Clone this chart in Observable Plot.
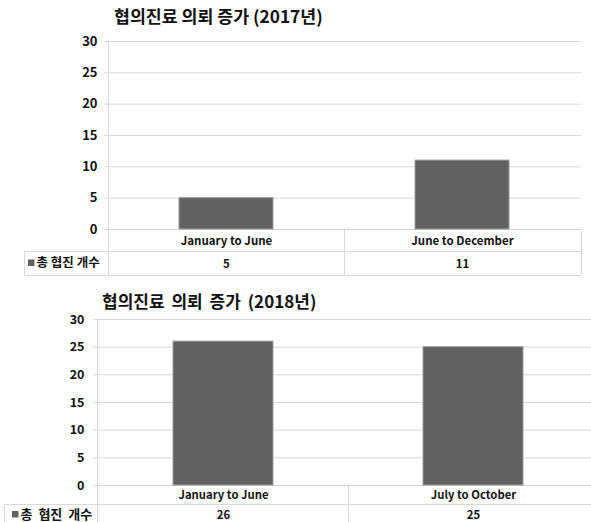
<!DOCTYPE html>
<html>
<head>
<meta charset="utf-8">
<script src="https://cdn.jsdelivr.net/npm/d3@7"></script>
<script src="https://cdn.jsdelivr.net/npm/@observablehq/plot@0.6"></script>
<style>
  body { margin: 0; background: #fff; overflow: hidden; }
  #wrap { position: relative; width: 591px; height: 522px; overflow: hidden;
          font-family: "Noto Sans CJK KR", "Noto Sans", sans-serif; }
  .panel { position: absolute; left: 0; }
  .title { position: absolute; font-weight: bold; white-space: nowrap; color: #111; line-height: 20px; }
  /* light grey tick stubs on the value axis */
  svg g[aria-label="y-axis tick"] { stroke: #d9d9d9; }
  svg g[aria-label="y-axis"] line { stroke: #d9d9d9; }
</style>
</head>
<body>
<div id="wrap"></div>
<script>
// Series and categories for the two yearly panels
const seriesName = "총 협진 개수";
const title2017 = "협의진료 의뢰 증가 (2017년)";
const periods2017 = ["January to June", "June to December"];
const counts2017 = [5, 11];
const title2018 = "협의진료 의뢰 증가 (2018년)";
const periods2018 = ["January to June", "July to October"];
const counts2018 = [26, 25];
const yTicks = [0, 5, 10, 15, 20, 25, 30];

const FONT = '"Noto Sans CJK KR", "Noto Sans", sans-serif';
const BAR = "#616161";
const LINE = "#d9d9d9";

function panel(cfg) {
  const wrap = document.getElementById("wrap");
  const box = document.createElement("div");
  box.className = "panel";
  box.style.top = cfg.top + "px";
  wrap.appendChild(box);

  const data = cfg.periods.map((p, i) => ({period: p, count: cfg.counts[i]}));
  const tableH = cfg.catRow + cfg.valRow;

  const plot = Plot.plot({
    width: cfg.width,
    height: cfg.height,
    marginLeft: cfg.marginLeft,
    marginRight: cfg.marginRight,
    marginTop: cfg.marginTop,
    marginBottom: cfg.marginBottom,
    style: {fontFamily: FONT, fontSize: cfg.tickFont + "px", fontWeight: "bold", color: "#111",
            background: "none", overflow: "visible", maxWidth: "none"},
    x: {domain: cfg.periods, paddingInner: 0.6, paddingOuter: 0.3, axis: null},
    y: {domain: [0, 30], ticks: yTicks, tickSize: 4, tickPadding: cfg.tickPad, label: null},
    marks: [
      Plot.ruleY(yTicks, {stroke: LINE, strokeWidth: 1}),
      Plot.barY(data, {x: "period", y: "count", fill: BAR, stroke: "#9c9c9c", strokeWidth: 1}),
      // category row of the data table
      Plot.text(data, {x: "period", y: () => 0, text: "period", dy: cfg.catRow / 2 + 0.5,
        fontSize: cfg.labelFont, fontWeight: "bold", fill: "#111"}),
      // value row of the data table
      Plot.text(data, {x: "period", y: () => 0, text: d => String(d.count), dy: cfg.catRow + cfg.valRow / 2 + 0.5,
        fontSize: cfg.labelFont, fontWeight: "bold", fill: "#111"})
    ]
  });
  plot.style.maxWidth = "none";
  box.appendChild(plot);

  // Table grid and value axis line, placed from the plot's own scales
  const xs = plot.scale("x");
  const ys = plot.scale("y");
  const y0 = ys.apply(0);
  const yTop = ys.apply(30);
  const xL = xs.range[0];
  const xR = xs.range[1];
  const xMid = xs.apply(cfg.periods[1]) - (xs.step - xs.bandwidth) / 2;
  const yRow = y0 + cfg.catRow;
  const yBot = y0 + tableH;

  const svg = d3.select(plot);
  const g = svg.append("g").attr("stroke", LINE).attr("stroke-width", 1).attr("shape-rendering", "crispEdges");
  const seg = (x1, y1, x2, y2) => g.append("line").attr("x1", x1).attr("y1", y1).attr("x2", x2).attr("y2", y2);
  seg(xL, yTop, xL, yBot);                 // value axis line down through the table
  seg(cfg.legendLeft, yRow, xR, yRow);     // between category and value rows
  seg(cfg.legendLeft, yBot, xR, yBot);     // table bottom
  seg(cfg.legendLeft, yRow, cfg.legendLeft, yBot);
  seg(xMid, y0, xMid, yBot);
  seg(xR, y0, xR, yBot);

  // legend key in the row header
  const cy = yRow + cfg.valRow / 2;
  svg.append("rect")
    .attr("x", cfg.legendLeft + cfg.swatchGap).attr("y", cy - 3.5)
    .attr("width", 6.5).attr("height", 6.5).attr("fill", BAR);
  svg.append("text")
    .attr("x", cfg.legendLeft + cfg.swatchGap + 8.5).attr("y", cy).attr("dy", "0.35em")
    .attr("text-anchor", "start")
    .attr("font-size", cfg.legendFont).attr("font-weight", "bold").attr("fill", "#111")
    .attr("word-spacing", cfg.legendSpacing)
    .text(seriesName);

  const t = document.createElement("div");
  t.className = "title";
  t.textContent = cfg.title;
  t.style.left = cfg.titleLeft + "px";
  t.style.top = cfg.titleTop + "px";
  t.style.fontSize = cfg.titleFont + "px";
  t.style.wordSpacing = cfg.titleSpacing + "px";
  box.appendChild(t);
}

panel({
  top: 0, width: 591, height: 280,
  marginLeft: 108, marginRight: 10, marginTop: 41, marginBottom: 51,
  catRow: 22, valRow: 24, tickFont: 13, tickPad: 7, labelFont: 11.5, legendFont: 12.5, legendSpacing: 0,
  legendLeft: 24, swatchGap: 4,
  periods: periods2017, counts: counts2017,
  title: title2017, titleLeft: 114, titleTop: 6, titleFont: 17.3, titleSpacing: 0
});

panel({
  top: 280, width: 601, height: 246,
  marginLeft: 97, marginRight: 3, marginTop: 39, marginBottom: 41,
  catRow: 19, valRow: 21, tickFont: 12.5, tickPad: 9, labelFont: 11.3, legendFont: 13, legendSpacing: 3,
  legendLeft: 4, swatchGap: 8,
  periods: periods2018, counts: counts2018,
  title: title2018, titleLeft: 102, titleTop: 11, titleFont: 17, titleSpacing: 3
});
</script>
</body>
</html>
